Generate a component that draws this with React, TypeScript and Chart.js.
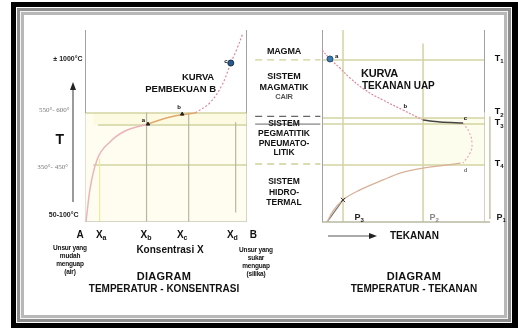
import React, { useEffect, useRef } from "react";
import { Chart, registerables } from "chart.js";
Chart.register(...registerables);

const W = 518;
const H = 335;

// ---------- Left diagram: temperature vs concentration ----------
const CONC_TICKS = [-0.03, 0.1, 0.377, 0.6, 0.91, 1.04];
const CONC_MAIN = ["A", "X", "X", "X", "X", "B"];
const CONC_SUB = ["", "a", "b", "c", "d", ""];
const CONC_GRID_X = [0.09, 0.38, 0.64, 0.93];
const CONC_GRID_TOP = [33, 57, 57, 52];
const CONC_GRID_Y = [56.8, 50.5, 29.7];
const CONC_GRID_Y_START = [0, 0.08, 0.05];

const TEMP_LABELS = ["± 1000°C", "550°- 600°", "350°- 450°", "50-100°C"];
const TEMP_LABEL_Y = [84.9, 58.3, 28.6, 3.6];
const TEMP_LABEL_X = [-0.015, -0.19, -0.2, -0.04];
const TEMP_LABEL_ALIGN = ["right", "center", "center", "right"];

const FREEZE_LOW_X = [0.006, 0.03, 0.074, 0.154, 0.247, 0.389];
const FREEZE_LOW_Y = [0, 16.7, 32.3, 41.7, 47.4, 51];
const FREEZE_MID_X = [0.389, 0.525, 0.68];
const FREEZE_MID_Y = [51, 54.7, 56.8];
const FREEZE_HIGH_X = [0.68, 0.77, 0.846, 0.9, 0.94, 0.975];
const FREEZE_HIGH_Y = [56.8, 62, 71.4, 82.8, 90.6, 98.4];

// ---------- Right diagram: temperature vs pressure ----------
const T_LEVELS = [84.4, 54.2, 51.0, 29.7];
const T_NAMES = ["T", "T", "T", "T"];
const T_SUBS = ["1", "2", "3", "4"];
const T_LABEL_Y = [85.4, 57.3, 51.6, 30.7];
const P_GRID_X = [0.129, 0.62];
const P_GRID_TOP = [100, 93];
const P_NAMES = ["P", "P", "P"];
const P_SUBS = ["3", "2", "1"];
const P_LABEL_X = [0.2, 0.66, 1.07];

const VAPOR_UP_X = [0, 0.049, 0.11, 0.172, 0.264, 0.374, 0.497, 0.62];
const VAPOR_UP_Y = [89.6, 84.9, 80.2, 75, 68.75, 63.5, 58.3, 53.1];
const VAPOR_FLAT_X = [0.62, 0.724, 0.865];
const VAPOR_FLAT_Y = [53.1, 52.1, 51.6];
const VAPOR_ARC_X = [0.865, 0.902, 0.92, 0.908, 0.865];
const VAPOR_ARC_Y = [51.6, 46.9, 41.1, 35.9, 30.7];
const VAPOR_LOW_X = [0.85, 0.724, 0.62, 0.479, 0.374, 0.233, 0.129, 0.067, 0.031];
const VAPOR_LOW_Y = [30.7, 29.2, 28.1, 25.5, 21.9, 16.7, 11.5, 5.7, 0];

const MID_EXT_Y = [84.4, 55.0, 51.0, 30.2];

const zip = (xs: number[], ys: number[]) => xs.map((x, i) => ({ x, y: ys[i] }));

const OLIVE = "#d3d3a2";
const GRAY = "#a2a2a2";

function line(data: any[], color: string, width: number, extra: any = {}) {
  return {
    data,
    showLine: true,
    borderColor: color,
    backgroundColor: color,
    borderWidth: width,
    pointRadius: 0,
    fill: false,
    order: 5,
    ...extra,
  };
}

type Item = {
  x: number;
  y: number;
  text: string;
  sub?: string;
  font: string;
  color?: string;
  align?: string;
};

function textPlugin(items: Item[]) {
  return {
    id: "texts",
    afterDatasetsDraw(chart: any) {
      const { ctx } = chart;
      const xs = chart.scales.x;
      const ys = chart.scales.y;
      for (const it of items) {
        const px = xs.getPixelForValue(it.x);
        const py = ys.getPixelForValue(it.y);
        ctx.save();
        ctx.textBaseline = "middle";
        ctx.textAlign = "left";
        ctx.font = it.font;
        ctx.fillStyle = it.color || "#111";
        const mw = ctx.measureText(it.text).width;
        const subFont = it.font.replace(/(\d+(\.\d+)?)px/, (_m: string, n: string) => `${Math.round(parseFloat(n) * 0.7)}px`);
        let sw = 0;
        if (it.sub) {
          ctx.font = subFont;
          sw = ctx.measureText(it.sub).width;
          ctx.font = it.font;
        }
        const tot = mw + sw;
        const sx = it.align === "center" ? px - tot / 2 : it.align === "right" ? px - tot : px;
        ctx.fillText(it.text, sx, py);
        if (it.sub) {
          ctx.font = subFont;
          ctx.fillText(it.sub, sx + mw, py + 3);
        }
        ctx.restore();
      }
    },
  };
}

function baseOptions(padding: any) {
  return {
    responsive: false,
    animation: false as const,
    devicePixelRatio: 1,
    layout: { padding },
    plugins: { legend: { display: false }, tooltip: { enabled: false } },
    scales: {
      x: { type: "linear" as const, min: 0, max: 1, display: false },
      y: { type: "linear" as const, min: 0, max: 100, display: false },
    },
  };
}

function leftConfig(): any {
  const ds: any[] = [];
  ds.push(line([{ x: 0, y: 56.8 }, { x: 1, y: 56.8 }], "rgba(0,0,0,0)", 0, { fill: "origin", backgroundColor: "#fefdf0", order: 20 }));
  ds.push(line([{ x: 0.05, y: 56.8 }, { x: 1, y: 56.8 }], "rgba(0,0,0,0)", 0, { fill: { value: 50.5 }, backgroundColor: "#fcfbe2", order: 19 }));
  ds.push(line([{ x: 0, y: 56.8 }, { x: 0, y: 100 }], GRAY, 2));
  ds.push(line([{ x: 1, y: 56.8 }, { x: 1, y: 100 }], GRAY, 2));
  ds.push(line([{ x: 0, y: 0 }, { x: 0, y: 56.8 }], "#d8d8c8", 1.5));
  ds.push(line([{ x: 1, y: 0 }, { x: 1, y: 56.8 }], "#c8c8b8", 1.5));
  ds.push(line([{ x: 0, y: 0 }, { x: 1, y: 0 }], "#c8c8b8", 1.5));
  CONC_GRID_X.forEach((gx, i) =>
    ds.push(line([{ x: gx, y: i === 3 ? 5 : 0 }, { x: gx, y: CONC_GRID_TOP[i] }], i === 0 ? "#ecec9c" : "#b8b8a0", 1.2))
  );
  CONC_GRID_Y.forEach((gy, i) => ds.push(line([{ x: CONC_GRID_Y_START[i], y: gy }, { x: 1, y: gy }], OLIVE, 1.5)));
  ds.push(line(zip(FREEZE_LOW_X, FREEZE_LOW_Y), "#eab4bc", 1.5, { tension: 0.4, cubicInterpolationMode: "monotone", order: 1 }));
  ds.push(line(zip(FREEZE_MID_X, FREEZE_MID_Y), "#e3a86e", 1.5, { tension: 0.4, order: 1 }));
  ds.push(line(zip(FREEZE_HIGH_X, FREEZE_HIGH_Y), "#e08898", 1.2, { tension: 0.4, borderDash: [2, 2], order: 1 }));
  ds.push({ data: [{ x: 0.9, y: 82.8 }], pointRadius: 3, pointBackgroundColor: "#2a5a8a", pointBorderColor: "#1a3050", order: 0 });
  ds.push({ data: [{ x: 0.389, y: 51 }, { x: 0.6, y: 56.2 }], pointRadius: 2, pointStyle: "triangle", pointBackgroundColor: "#222", pointBorderColor: "#222", order: 0 });

  const items: Item[] = [];
  CONC_TICKS.forEach((v, i) =>
    items.push({ x: v, y: -6.8, text: CONC_MAIN[i], sub: CONC_SUB[i], font: "bold 10px 'Liberation Sans'", align: "center" })
  );
  TEMP_LABELS.forEach((t, i) =>
    items.push({
      x: TEMP_LABEL_X[i],
      y: TEMP_LABEL_Y[i],
      text: t,
      font: i === 0 || i === 3 ? "bold 7px 'Liberation Sans'" : "7px 'Liberation Serif'",
      color: i === 0 || i === 3 ? "#222" : "#777",
      align: TEMP_LABEL_ALIGN[i],
    })
  );
  items.push({ x: -0.155, y: 42.7, text: "T", font: "bold 14px 'Liberation Sans'", align: "center" });
  items.push({ x: 0.36, y: 53, text: "a", font: "bold 6px 'Liberation Sans'", align: "center" });
  items.push({ x: 0.58, y: 59.5, text: "b", font: "bold 6px 'Liberation Sans'", align: "center" });
  items.push({ x: 0.87, y: 83.5, text: "c", font: "bold 6px 'Liberation Sans'", align: "center" });

  return {
    type: "scatter",
    data: { datasets: ds },
    options: baseOptions({ left: 85, right: W - 247, top: 30, bottom: H - 222 }),
    plugins: [textPlugin(items)],
  };
}

function rightConfig(): any {
  const ds: any[] = [];
  ds.push(line([{ x: 0.62, y: 54.2 }, { x: 1, y: 54.2 }], "rgba(0,0,0,0)", 0, { fill: { value: 29.7 }, backgroundColor: "#fdfdee", order: 20 }));
  ds.push(line([{ x: 0, y: 0 }, { x: 0, y: 100 }], GRAY, 2));
  ds.push(line([{ x: 1, y: 57 }, { x: 1, y: 100 }], GRAY, 2));
  ds.push(line([{ x: 1, y: 0 }, { x: 1, y: 57 }], "#c4c4a8", 1.5));
  ds.push(line([{ x: 1.03, y: 1.5 }, { x: 1.03, y: 55 }], "#c4c4a8", 1.5, { clip: false }));
  ds.push(line([{ x: 0, y: 0 }, { x: 1.03, y: 0 }], "#b8b8a0", 1.5, { clip: false }));
  P_GRID_X.forEach((gx, i) => ds.push(line([{ x: gx, y: 0 }, { x: gx, y: P_GRID_TOP[i] }], OLIVE, 1.5)));
  T_LEVELS.forEach((ty) => ds.push(line([{ x: 0, y: ty }, { x: 1, y: ty }], OLIVE, 1.5)));
  MID_EXT_Y.forEach((ty, i) =>
    ds.push(
      line([{ x: -0.41, y: ty }, { x: -0.01, y: ty }], i === 1 || i === 2 ? "#666" : "#d0d098", i === 2 ? 1 : 1.3, {
        borderDash: i === 2 ? [] : [7, 5],
        clip: false,
      })
    )
  );
  ds.push(line(zip(VAPOR_UP_X, VAPOR_UP_Y), "#e08898", 1.2, { tension: 0.4, borderDash: [2, 1.5], order: 1 }));
  ds.push(line(zip(VAPOR_FLAT_X, VAPOR_FLAT_Y), "#444", 1.5, { tension: 0.3, order: 1 }));
  ds.push(line(zip(VAPOR_ARC_X, VAPOR_ARC_Y), "#e8a8b8", 1.2, { tension: 0.5, borderDash: [2, 2], order: 1 }));
  ds.push(line(zip(VAPOR_LOW_X, VAPOR_LOW_Y), "#d8b098", 1.3, { tension: 0.4, cubicInterpolationMode: "monotone", order: 1 }));
  ds.push(line([{ x: 0.129, y: 11.5 }, { x: 0.031, y: 0 }], "#777", 1.2, { order: 1 }));
  ds.push({ data: [{ x: 0.049, y: 84.9 }], pointRadius: 3, pointBackgroundColor: "#3a7ab0", pointBorderColor: "#25507a", order: 0 });
  ds.push({ data: [{ x: 0.129, y: 11.5 }], pointRadius: 3, pointStyle: "crossRot", borderColor: "#333", pointBorderColor: "#333", order: 0 });

  const items: Item[] = [];
  T_NAMES.forEach((t, i) =>
    items.push({ x: 1.06, y: T_LABEL_Y[i], text: t, sub: T_SUBS[i], font: "bold 9px 'Liberation Sans'", align: "left" })
  );
  P_NAMES.forEach((p, i) =>
    items.push({ x: P_LABEL_X[i], y: 2.2, text: p, sub: P_SUBS[i], font: "bold 9px 'Liberation Sans'", align: "left", color: i === 1 ? "#888" : "#222" })
  );
  items.push({ x: 0.08, y: 86.5, text: "a", font: "bold 6px 'Liberation Sans'", align: "left" });
  items.push({ x: 0.5, y: 60, text: "b", font: "bold 6px 'Liberation Sans'", align: "left" });
  items.push({ x: 0.87, y: 54, text: "c", font: "bold 6px 'Liberation Sans'", align: "left" });
  items.push({ x: 0.87, y: 27, text: "d", font: "bold 6px 'Liberation Sans'", align: "left", color: "#777" });

  return {
    type: "scatter",
    data: { datasets: ds },
    options: baseOptions({ left: 322, right: W - 485, top: 30, bottom: H - 222 }),
    plugins: [textPlugin(items)],
  };
}

const bold = "'Liberation Sans', Arial, sans-serif";

function T(props: { x: number; y: number; size: number; children: any; align?: string; color?: string; weight?: number; ls?: number }) {
  const { x, y, size, align = "center", color = "#111", weight = 700, ls = -0.2 } = props;
  const tx = align === "center" ? "-50%" : align === "right" ? "-100%" : "0";
  return (
    <div
      style={{
        position: "absolute",
        left: x,
        top: y,
        transform: `translate(${tx}, -50%)`,
        fontFamily: bold,
        fontWeight: weight,
        fontSize: size,
        color,
        whiteSpace: "nowrap",
        letterSpacing: ls,
        lineHeight: 1,
      }}
    >
      {props.children}
    </div>
  );
}

function Block(props: { x: number; y: number; lines: string[]; size: number; lh: number; color?: string; weight?: number; ls?: number }) {
  return (
    <>
      {props.lines.map((l, i) => (
        <T key={i} x={props.x} y={props.y + i * props.lh} size={props.size} color={props.color} weight={props.weight} ls={props.ls}>
          {l}
        </T>
      ))}
    </>
  );
}

export default function App() {
  const leftRef = useRef<HTMLCanvasElement>(null);
  const rightRef = useRef<HTMLCanvasElement>(null);

  useEffect(() => {
    const a = new Chart(leftRef.current!, leftConfig());
    const b = new Chart(rightRef.current!, rightConfig());
    return () => {
      a.destroy();
      b.destroy();
    };
  }, []);

  const canvasStyle: React.CSSProperties = { position: "absolute", left: 0, top: 0, width: W, height: H };

  return (
    <div style={{ position: "absolute", left: 0, top: 0, width: W, height: H, background: "#fff", overflow: "hidden" }}>
      <div
        style={{
          position: "absolute",
          left: 11,
          top: 2,
          width: W - 11,
          height: 326,
          boxSizing: "border-box",
          border: "5px solid #000",
          borderRight: "6px solid #000",
          boxShadow:
            "inset 0 0 0 1px #fff, inset 0 0 0 4px #8e8e8e, inset 0 0 0 5px #f4f4f4, inset 0 0 0 8px #b8b8b8",
        }}
      />
      <canvas ref={leftRef} width={W} height={H} style={canvasStyle} />
      <canvas ref={rightRef} width={W} height={H} style={canvasStyle} />

      <div style={{ position: "absolute", left: 72, top: 88, width: 2, height: 114, background: "#9a9a9a" }} />
      <div
        style={{
          position: "absolute",
          left: 70,
          top: 82,
          width: 0,
          height: 0,
          borderLeft: "3.5px solid transparent",
          borderRight: "3.5px solid transparent",
          borderBottom: "8px solid #222",
        }}
      />

      <T x={214} y={77} size={9.5} align="right">KURVA</T>
      <T x={216} y={89} size={9.5} align="right" ls={0}>PEMBEKUAN B</T>
      <T x={361} y={73} size={11} align="left">KURVA</T>
      <T x={362} y={86} size={10} align="left" ls={0}>TEKANAN UAP</T>

      <T x={284} y={51} size={9}>MAGMA</T>
      <Block x={284} y={76} lines={["SISTEM", "MAGMATIK"]} size={9} lh={10.5} ls={0} />
      <T x={284} y={97} size={7.5} color="#555">CAIR</T>
      <Block x={284} y={123} lines={["SISTEM", "PEGMATITIK", "PNEUMATO-", "LITIK"]} size={8.5} lh={9.8} ls={0} />
      <Block x={284} y={181} lines={["SISTEM", "HIDRO-", "TERMAL"]} size={8.5} lh={10.5} ls={0} />

      <Block x={70} y={248} lines={["Unsur yang", "mudah", "menguap", "(air)"]} size={6.5} lh={8} weight={700} />
      <Block x={256} y={250} lines={["Unsur yang", "sukar", "menguap", "(silika)"]} size={6.5} lh={8} weight={700} />
      <T x={170} y={250} size={10} ls={0}>Konsentrasi X</T>

      <T x={164} y={276} size={11} ls={0.3}>DIAGRAM</T>
      <T x={164} y={289} size={10} ls={0}>TEMPERATUR - KONSENTRASI</T>
      <T x={414} y={276} size={11} ls={0.3}>DIAGRAM</T>
      <T x={414} y={289} size={10} ls={0}>TEMPERATUR - TEKANAN</T>

      <div style={{ position: "absolute", left: 328, top: 235, width: 44, height: 1.5, background: "#aaa" }} />
      <div
        style={{
          position: "absolute",
          left: 369,
          top: 232.5,
          width: 0,
          height: 0,
          borderTop: "3px solid transparent",
          borderBottom: "3px solid transparent",
          borderLeft: "8px solid #222",
        }}
      />
      <T x={390} y={236} size={10} align="left" ls={0}>TEKANAN</T>
    </div>
  );
}
